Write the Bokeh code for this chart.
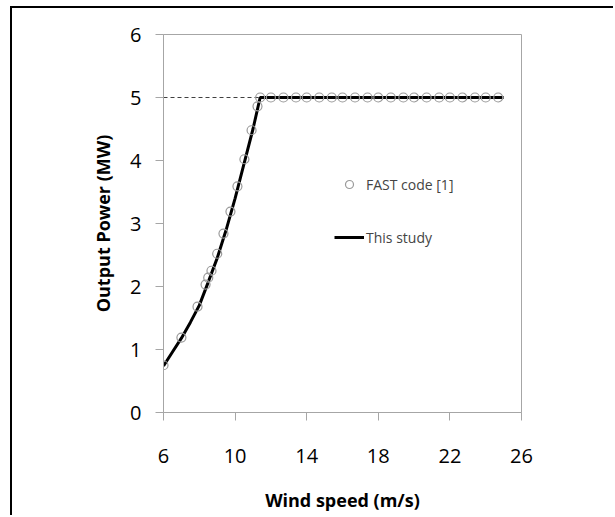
from bokeh.plotting import figure
from bokeh.models import Range1d, FixedTicker, Legend, LegendItem
from bokeh.embed import file_html
from bokeh.resources import INLINE

# FAST code [1] data
fast_wind = [6.0, 7.0, 7.9, 8.35, 8.5, 8.68, 9.0, 9.35, 9.74, 10.13, 10.52, 10.92, 11.25, 11.4,
             12.0, 12.7, 13.4, 14.0, 14.7, 15.4, 16.0, 16.7, 17.4, 18.0, 18.7, 19.4, 20.0,
             20.7, 21.4, 22.0, 22.7, 23.4, 24.0, 24.7]
fast_power = [0.75, 1.19, 1.68, 2.03, 2.14, 2.25, 2.52, 2.84, 3.19, 3.59, 4.02, 4.48, 4.86, 5.0,
              5.0, 5.0, 5.0, 5.0, 5.0, 5.0, 5.0, 5.0, 5.0, 5.0, 5.0, 5.0, 5.0,
              5.0, 5.0, 5.0, 5.0, 5.0, 5.0, 5.0]

# This study
study_wind = [6.0, 6.5, 7.0, 7.5, 8.0, 8.5, 9.0, 9.5, 10.0, 10.5, 11.0, 11.4, 25.0]
study_power = [0.74, 0.96, 1.18, 1.43, 1.70, 2.07, 2.45, 2.9, 3.4, 3.95, 4.5, 5.0, 5.0]

# rated power reference
rated_wind = [6.0, 11.4]
rated_power = [5.0, 5.0]

x_ticks = [6, 10, 14, 18, 22, 26]
y_ticks = [0, 1, 2, 3, 4, 5, 6]

FONT = "Open Sans"

OX, OY = 12, 8  # canvas offset inside the page (outer frame)

p = figure(width=615 - OX, height=517 - OY, output_backend="svg", toolbar_location=None,
           x_range=Range1d(6, 26), y_range=Range1d(0, 6),
           min_border_left=163 - OX, min_border_right=94,
           min_border_top=34 - OY, min_border_bottom=105)
p.styles = {"margin-left": "10px", "margin-top": "6px",
            "border-top": "2px solid #000", "border-left": "2px solid #000"}
p.grid.visible = False
p.outline_line_color = "#a6a6a6"
p.outline_line_width = 1
p.background_fill_color = "white"
p.border_fill_color = "white"

for ax in (p.xaxis[0], p.yaxis[0]):
    ax.axis_line_color = "#a6a6a6"
    ax.major_tick_line_color = "#a6a6a6"
    ax.minor_tick_line_color = None
    ax.major_tick_in = 0
    ax.major_tick_out = 8
    ax.major_label_text_font = FONT
    ax.major_label_text_font_size = "20px"
    ax.major_label_text_color = "#000000"
    ax.axis_label_text_font = FONT
    ax.axis_label_text_font_style = "bold"
    ax.axis_label_text_font_size = "18px"
    ax.axis_label_text_color = "#000000"

p.xaxis.ticker = FixedTicker(ticks=x_ticks)
p.yaxis.ticker = FixedTicker(ticks=y_ticks)
p.xaxis.major_label_standoff = 28
p.yaxis.major_label_standoff = 14
p.xaxis.axis_label = "Wind speed (m/s)"
p.yaxis.axis_label = "Output Power (MW)"
p.xaxis.axis_label_standoff = 22
p.yaxis.axis_label_standoff = 12

p.line(rated_wind, rated_power, line_color="#404040", line_width=1, line_dash="4 3")
r_line = p.line(study_wind, study_power, line_color="black", line_width=3)
r_circ = p.scatter(fast_wind, fast_power, marker="circle", size=9, fill_color=None,
                   line_color="#9a9a9a", line_width=1.2)

legend = Legend(items=[LegendItem(label="FAST code [1]", renderers=[r_circ]),
                       LegendItem(label="This study", renderers=[r_line])],
                location=(171, 165), padding=0, margin=0, spacing=33,
                glyph_width=30, glyph_height=20, label_height=20, label_standoff=2,
                label_text_font=FONT, label_text_font_size="14px",
                border_line_alpha=0, background_fill_alpha=0)
p.add_layout(legend)

open("out.html", "w").write(file_html(p, INLINE))
